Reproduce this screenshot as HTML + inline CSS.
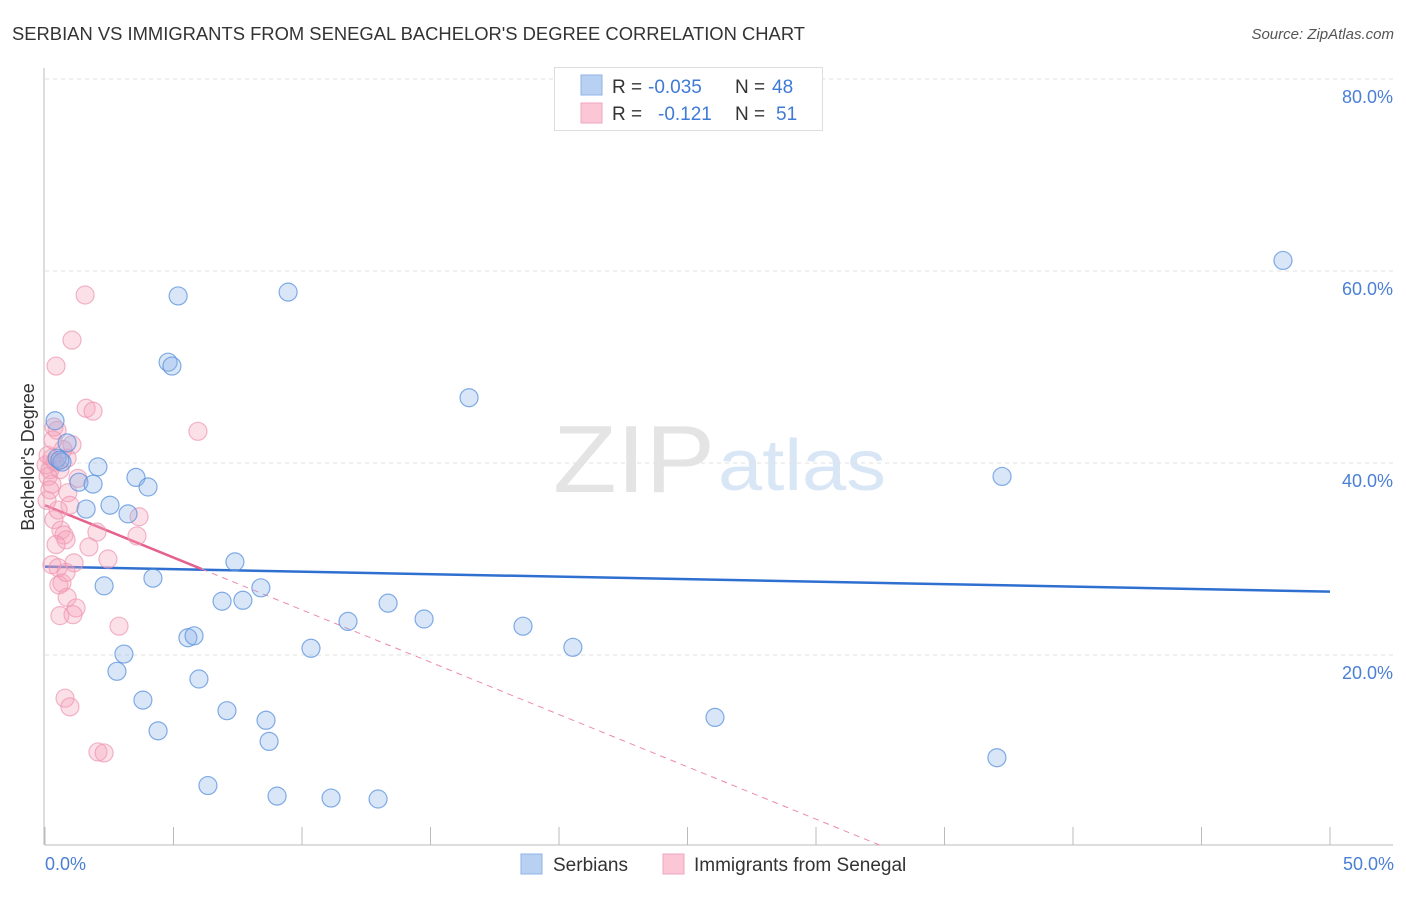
<!DOCTYPE html>
<html><head><meta charset="utf-8"><style>
body{margin:0;background:#fff;font-family:"Liberation Sans",sans-serif}
svg text{font-family:"Liberation Sans",sans-serif}
</style></head><body>
<svg id="chart" width="1406" height="892" xmlns="http://www.w3.org/2000/svg">
<text x="12" y="40" font-size="18" fill="#333" textLength="793" lengthAdjust="spacingAndGlyphs">SERBIAN VS IMMIGRANTS FROM SENEGAL BACHELOR'S DEGREE CORRELATION CHART</text>
<text x="1394" y="39" font-size="15" fill="#555" text-anchor="end" font-style="italic">Source: ZipAtlas.com</text>
<g>
<text x="553" y="492" font-size="96" font-family="Liberation Serif" fill="#e4e4e4" textLength="162" lengthAdjust="spacingAndGlyphs">ZIP</text>
<text x="718" y="490" font-size="72" fill="#d8e6f6" textLength="168" lengthAdjust="spacingAndGlyphs">atlas</text>
</g>
<g id="grid"></g>
<g id="axes"></g>
<g id="trends"></g>
<g id="points"></g>
<text transform="translate(34,457) rotate(-90)" font-size="18" fill="#333" text-anchor="middle">Bachelor's Degree</text>
<text x="45" y="870" font-size="18" fill="#4a7fd4">0.0%</text>
<text x="1394" y="870" font-size="18" fill="#4a7fd4" text-anchor="end">50.0%</text>
<g>
<rect x="554.5" y="67.5" width="268" height="63" fill="#fff" stroke="#ddd"/>
<rect x="581" y="75" width="21" height="20" fill="#b8d1f3" stroke="#8fb2e6"/>
<rect x="581" y="103" width="21" height="20" fill="#fbc6d5" stroke="#f2a6bd"/>
<text x="612" y="93" font-size="19" fill="#333">R = </text><text x="648" y="93" font-size="19" fill="#3f7ad6">-0.035</text>
<text x="735" y="93" font-size="19" fill="#333">N = </text><text x="772" y="93" font-size="19" fill="#3f7ad6">48</text>
<text x="612" y="120" font-size="19" fill="#333">R = </text><text x="658" y="120" font-size="19" fill="#3f7ad6">-0.121</text>
<text x="735" y="120" font-size="19" fill="#333">N = </text><text x="776" y="120" font-size="19" fill="#3f7ad6">51</text>
</g>
<g>
<rect x="521" y="854" width="21" height="20" fill="#b8d1f3" stroke="#8fb2e6"/>
<text x="553" y="871" font-size="19" fill="#333">Serbians</text>
<rect x="663" y="854" width="21" height="20" fill="#fbc6d5" stroke="#f2a6bd"/>
<text x="694" y="871" font-size="19" fill="#333">Immigrants from Senegal</text>
</g>
</svg>
<script>
const blueX=[0.39,0.86,0.47,0.66,2.06,1.32,1.87,3.54,4.01,2.53,1.60,3.23,7.39,2.30,4.20,8.40,6.89,7.70,13.35,11.79,14.75,18.6,5.56,5.80,10.35,20.54,3.07,2.80,5.99,3.81,7.08,8.60,4.40,8.72,26.07,37.04,6.34,9.03,11.13,12.96,5.18,9.46,4.79,4.94,16.5,37.24,48.17,0.58];
const blueY=[44.4,42.1,40.5,40.1,39.6,38.0,37.8,38.5,37.5,35.6,35.2,34.7,29.7,27.2,28.0,27.0,25.6,25.7,25.4,23.5,23.75,23.0,21.8,22.0,20.7,20.8,20.1,18.3,17.5,15.3,14.2,13.2,12.1,11.0,13.5,9.3,6.4,5.3,5.1,5.0,57.4,57.8,50.5,50.1,46.8,38.6,61.1,40.3];
const pinkX=[1.56,1.05,0.43,1.60,1.87,5.95,0.35,0.47,1.05,0.86,0.27,0.58,0.19,0.12,0.27,0.39,0.89,0.97,0.35,0.62,0.74,0.82,2.02,1.71,2.45,3.66,3.58,0.27,0.51,1.13,0.66,0.54,0.86,1.21,0.58,1.09,2.88,0.78,0.97,2.06,2.30,0.08,0.19,0.70,0.04,1.28,0.43,0.12,0.31,0.82,0.51];
const pinkY=[57.5,52.8,50.1,45.7,45.4,43.3,43.75,43.4,41.9,40.5,40.5,39.3,39.3,38.6,37.8,40.1,36.9,35.6,34.1,33.0,32.5,32.0,32.8,31.25,30.0,34.4,32.4,29.4,29.1,29.6,27.5,27.3,26.0,24.9,24.1,24.2,23.0,15.5,14.6,9.9,9.8,36.1,37.2,41.4,39.8,38.4,31.5,40.8,42.4,28.6,35.1];
const yTicks=[20,40,60,80];
const yTickLabels=["20.0%","40.0%","60.0%","80.0%"];
const xTicks=[0,5,10,15,20,25,30,35,40,45,50];
const blueTrend=[29.2,26.6];
const pinkTrend=[35.6,-1.09];
const pinkSolidEnd=6.1;

const NS="http://www.w3.org/2000/svg";
const sx=v=>45+v*25.7;
const sy=v=>847-v*9.6;
function mk(tag,attrs,parent){const e=document.createElementNS(NS,tag);for(const k in attrs)e.setAttribute(k,attrs[k]);parent.appendChild(e);return e;}
const grid=document.getElementById('grid'),axes=document.getElementById('axes'),trends=document.getElementById('trends'),pts=document.getElementById('points');
yTicks.forEach((t,i)=>{
  const l=mk('line',{x1:45,x2:1393,y1:sy(t),y2:sy(t),stroke:'#e2e2e2','stroke-dasharray':'4,4'},grid);
  
  
  const tx=mk('text',{x:1393,y:sy(t)+24,'font-size':18,fill:'#4a7fd4','text-anchor':'end'},grid);
  tx.textContent=yTickLabels[i];
  
  
});
const xa=mk('line',{x1:45,x2:1393,y1:845,y2:845,stroke:'#bbb'},axes);


const ya=mk('line',{x1:44,x2:44,y1:68,y2:845,stroke:'#bbb'},axes);


xTicks.forEach(t=>{
  const l=mk('line',{x1:sx(t),x2:sx(t),y1:827,y2:845,stroke:'#bbb'},axes);
  
  
});
function addPts(X,Y,fill,stroke,name){
  X.forEach((x,i)=>{
    const c=mk('circle',{cx:sx(x),cy:sy(Y[i]),r:9,fill:fill,stroke:stroke,'stroke-width':1.2},pts);
    
    
  });
}
addPts(pinkX,pinkY,'rgba(246,160,186,0.33)','rgba(238,150,178,0.7)','point-senegal');
addPts(blueX,blueY,'rgba(140,180,235,0.33)','rgba(90,145,220,0.75)','point-serbians');
const bt=mk('line',{x1:sx(0),y1:sy(blueTrend[0]),x2:sx(50),y2:sy(blueTrend[1]),stroke:'#2f6fd0','stroke-width':2.5},trends);


const pEnd=-pinkTrend[0]/pinkTrend[1];
const pd=mk('line',{x1:sx(pinkSolidEnd),y1:sy(pinkTrend[0]+pinkTrend[1]*pinkSolidEnd),x2:sx(pEnd),y2:sy(0),stroke:'#ec8aa8','stroke-width':1,'stroke-dasharray':'6,5'},trends);


const ps=mk('line',{x1:sx(0),y1:sy(pinkTrend[0]),x2:sx(pinkSolidEnd),y2:sy(pinkTrend[0]+pinkTrend[1]*pinkSolidEnd),stroke:'#e4628c','stroke-width':2.5},trends);


</script>
</body></html>
